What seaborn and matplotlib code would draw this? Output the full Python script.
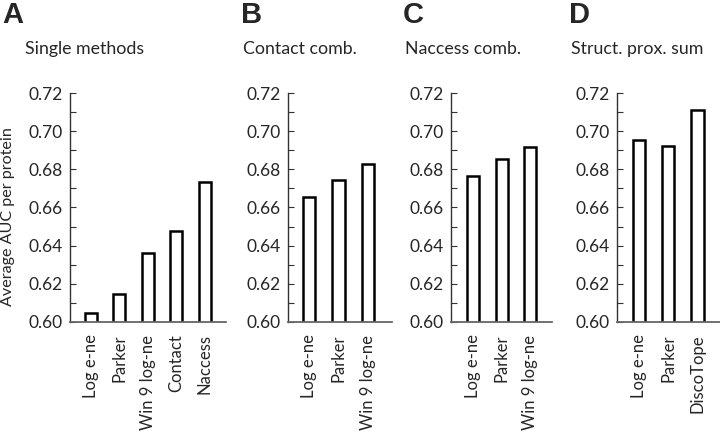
import matplotlib
matplotlib.use("Agg")
import matplotlib.pyplot as plt
import seaborn as sns
import pandas as pd
from matplotlib.ticker import MultipleLocator

# Données
methods_a = ["Log e-ne", "Parker", "Win 9 log-ne", "Contact", "Naccess"]
auc_a = [0.6046, 0.6147, 0.6360, 0.6478, 0.6733]

methods_b = ["Log e-ne", "Parker", "Win 9 log-ne"]
auc_b = [0.6653, 0.6744, 0.6826]

methods_c = ["Log e-ne", "Parker", "Win 9 log-ne"]
auc_c = [0.6765, 0.6852, 0.6918]

methods_d = ["Log e-ne", "Parker", "DiscoTope"]
auc_d = [0.6953, 0.6924, 0.7110]

panel_letters = ["A", "B", "C", "D"]
panel_titles = ["Single methods", "Contact comb.", "Naccess comb.", "Struct. prox. sum"]
y_ticks = [0.60, 0.62, 0.64, 0.66, 0.68, 0.70, 0.72]

sns.set_style("white")
plt.rcParams["font.family"] = ["Lato", "DejaVu Sans"]

fig = plt.figure(figsize=(7.2, 4.37), dpi=100)
W, H = 720, 437

# positions des axes en pixels (gauche, droite) et limites x
layout = [
    (70, 226, -0.737, 4.74),
    (288, 392, -0.71, 2.81),
    (451, 552, -0.79, 2.78),
    (617, 720, -0.75, 2.77),
]
y_top, y_bot = 93, 322

panels = [(methods_a, auc_a), (methods_b, auc_b), (methods_c, auc_c), (methods_d, auc_d)]

for i, ((names, vals), (x0, x1, xl, xr)) in enumerate(zip(panels, layout)):
    ax = fig.add_axes([x0 / W, 1 - y_bot / H, (x1 - x0) / W, (y_bot - y_top) / H])
    df = pd.DataFrame({"method": names, "auc": vals})
    sns.barplot(data=df, x="method", y="auc", ax=ax, color="white",
                edgecolor="black", linewidth=1.8, width=0.42, saturation=1)
    ax.set_xlim(xl, xr)
    ax.set_ylim(0.60, 0.72)
    ax.set_yticks(y_ticks)
    ax.set_yticklabels([f"{t:.2f}" for t in y_ticks], fontsize=12.5)
    ax.yaxis.set_minor_locator(MultipleLocator(0.01))
    ax.tick_params(axis="y", which="both", direction="in", length=4,
                   width=0.8, color="#333333", left=True, pad=5)
    ax.tick_params(axis="x", length=0, pad=9, labelsize=12)
    for lbl in ax.get_xticklabels():
        lbl.set_rotation(90)
    ax.set_xlabel("")
    if i == 0:
        ax.set_ylabel("Average AUC per protein", fontsize=11.6)
        ax.yaxis.set_label_coords(-0.35, 0.46)
    else:
        ax.set_ylabel("")
    sns.despine(ax=ax, top=True, right=True)
    ax.spines["left"].set_color("#333333")
    ax.spines["left"].set_linewidth(1.0)
    ax.spines["bottom"].set_color("#666666")
    ax.spines["bottom"].set_linewidth(1.3)

    # lettre du panneau et sous-titre
    lx = [2, 241, 403, 569][i]
    fig.text(lx / W, 1 - 15 / H, panel_letters[i], fontsize=21, fontweight="heavy",
             va="center", ha="left", family=["Liberation Sans", "DejaVu Sans"])
    fig.text((25 if i == 0 else lx + 2) / W, 1 - 49 / H, panel_titles[i],
             fontsize=12.8, va="center", ha="left")

fig.savefig("out.png", dpi=100)
